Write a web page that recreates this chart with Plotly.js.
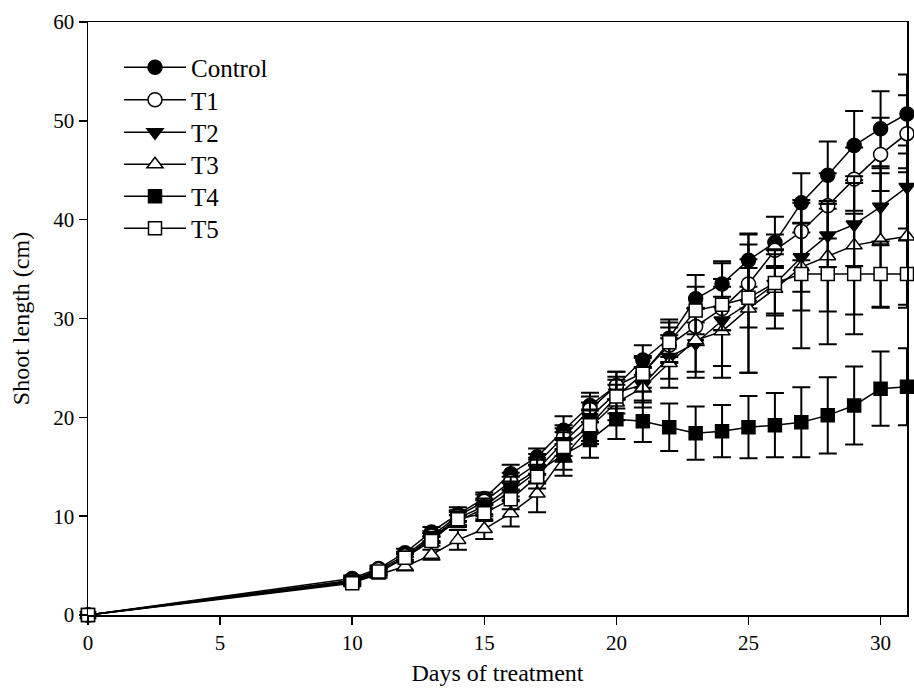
<!DOCTYPE html>
<html>
<head>
<meta charset="utf-8">
<script src="https://cdn.plot.ly/plotly-3.0.1.min.js"></script>
<style>html,body{margin:0;padding:0;background:#fff;}#chart{width:914px;height:689px;}</style>
</head>
<body>
<div id="chart"></div>
<script>
const days = [0,10,11,12,13,14,15,16,17,18,19,20,21,22,23,24,25,26,27,28,29,30,31];

const control = [0,3.7,4.7,6.3,8.4,10.2,11.8,14.3,16.0,18.7,21.2,23.2,25.8,28.0,32.0,33.5,35.9,37.7,41.7,44.5,47.5,49.2,50.7];
const t1 = [0,3.5,4.6,6.0,8.0,10.0,11.5,13.5,15.3,18.0,20.8,23.2,24.5,27.3,29.2,31.0,33.5,36.9,38.8,41.4,44.1,46.6,48.7];
const t2 = [0,3.5,4.4,5.8,7.8,9.8,11.0,13.0,14.7,17.5,20.0,22.5,23.3,26.1,27.5,29.8,31.5,33.5,36.2,38.4,39.5,41.3,43.3];
const t3 = [0,3.3,4.1,4.9,6.1,7.6,8.7,10.3,12.3,16.0,19.0,21.5,23.0,25.5,27.8,28.7,31.0,33.0,35.2,36.3,37.4,37.9,38.3];
const t4 = [0,3.4,4.3,5.8,7.8,9.5,10.8,12.5,14.5,16.2,17.7,19.8,19.6,19.0,18.4,18.6,19.0,19.2,19.5,20.2,21.2,22.9,23.1];
const t5 = [0,3.2,4.4,5.8,7.5,9.7,10.3,11.7,14.0,17.0,19.2,22.1,24.4,27.6,30.8,31.4,32.1,33.6,34.5,34.5,34.5,34.5,34.5];

const controlErr = [0,0.3,0.3,0.4,0.5,0.7,0.6,0.9,0.85,1.4,1.3,1.4,1.5,1.9,2.4,2.3,2.7,2.6,3.0,3.4,3.5,3.8,4.0];
const t1Err = [0,0.3,0.3,0.4,0.5,0.6,0.7,0.9,1.0,1.2,1.3,1.4,1.5,1.8,1.9,2.2,2.5,1.6,2.9,3.3,3.2,3.7,3.9];
const t2Err = [0,0.3,0.3,0.4,0.5,0.7,0.8,1.0,1.2,1.4,1.5,1.6,1.8,2.2,3.5,5.8,7.0,3.0,3.5,3.2,4.2,3.9,4.2];
const t3Err = [0,0.3,0.3,0.4,0.5,1.0,1.0,1.35,1.9,1.9,1.7,1.8,2.0,2.5,3.2,3.5,6.5,4.0,4.4,5.6,7.0,6.8,6.9];
const t4Err = [0,0.3,0.3,0.4,0.5,0.6,0.8,1.0,1.2,1.5,1.8,2.0,2.1,2.4,2.7,2.65,3.15,3.25,3.55,3.85,3.95,3.75,3.9];
const t5Err = [0,0.3,0.3,0.4,0.5,0.7,0.8,1.0,1.2,1.5,1.6,1.7,1.8,2.0,2.4,2.6,3.0,3.3,7.5,7.1,6.1,3.3,3.4];

const names = ['Control','T1','T2','T3','T4','T5'];
const values = [control,t1,t2,t3,t4,t5];
const errs = [controlErr,t1Err,t2Err,t3Err,t4Err,t5Err];
const symbols = ['circle','circle-open','triangle-down','triangle-up-open','square','square-open'];

const font = {family: 'Liberation Serif, Times New Roman, Times, serif', color: '#000'};
const legendKeys = ['legend','legend2','legend3','legend4','legend5','legend6'];

const traces = names.map((n,i) => {
  const open = symbols[i].endsWith('-open');
  const base = open ? symbols[i].replace('-open','') : symbols[i];
  return {
    x: days, y: values[i], name: n, type: 'scatter', mode: 'lines+markers',
    legend: legendKeys[i],
    cliponaxis: false,
    line: {color: '#000', width: 1.5},
    marker: {
      symbol: base,
      size: base === 'square' ? 13 : 14,
      color: open ? '#fff' : '#000',
      line: {color: '#000', width: 1.5}
    },
    error_y: {type: 'data', array: errs[i], visible: true, color: '#000', thickness: 2, width: 9}
  };
});

const plotTop = 22, plotBottom = 615, plotH = plotBottom - plotTop;
const layout = {
  width: 914, height: 689,
  margin: {l: 88, r: 7, t: 22, b: 74},
  paper_bgcolor: '#fff', plot_bgcolor: '#fff',
  font: Object.assign({size: 22}, font),
  showlegend: true,
  xaxis: {
    range: [0, 31], tickvals: [0,5,10,15,20,25,30], ticks: 'outside', ticklen: 8, tickwidth: 1.5,
    tickcolor: '#000', showline: true, linecolor: '#000', linewidth: 1.5, mirror: true,
    showgrid: false, zeroline: false, tickfont: Object.assign({size: 21}, font),
    title: {text: 'Days of treatment', font: Object.assign({size: 24}, font), standoff: 10}
  },
  yaxis: {
    range: [0, 60], tickvals: [0,10,20,30,40,50,60], ticks: 'outside', ticklen: 8, tickwidth: 1.5,
    tickcolor: '#000', showline: true, linecolor: '#000', linewidth: 1.5, mirror: true,
    showgrid: false, zeroline: false, tickfont: Object.assign({size: 21}, font),
    title: {text: 'Shoot length (cm)', font: Object.assign({size: 24}, font), standoff: 17}
  }
};
const rowCenters = [67.5, 100, 132.5, 164.5, 196.5, 228.5];
legendKeys.forEach((k, i) => {
  layout[k] = {
    x: (119 - 88) / 819, xanchor: 'left',
    y: (plotBottom - rowCenters[i]) / plotH, yanchor: 'middle',
    bgcolor: 'rgba(0,0,0,0)', borderwidth: 0, itemwidth: 62,
    font: Object.assign({size: 25}, font)
  };
});

Plotly.newPlot('chart', traces, layout, {displayModeBar: false, staticPlot: true});
</script>
</body>
</html>
